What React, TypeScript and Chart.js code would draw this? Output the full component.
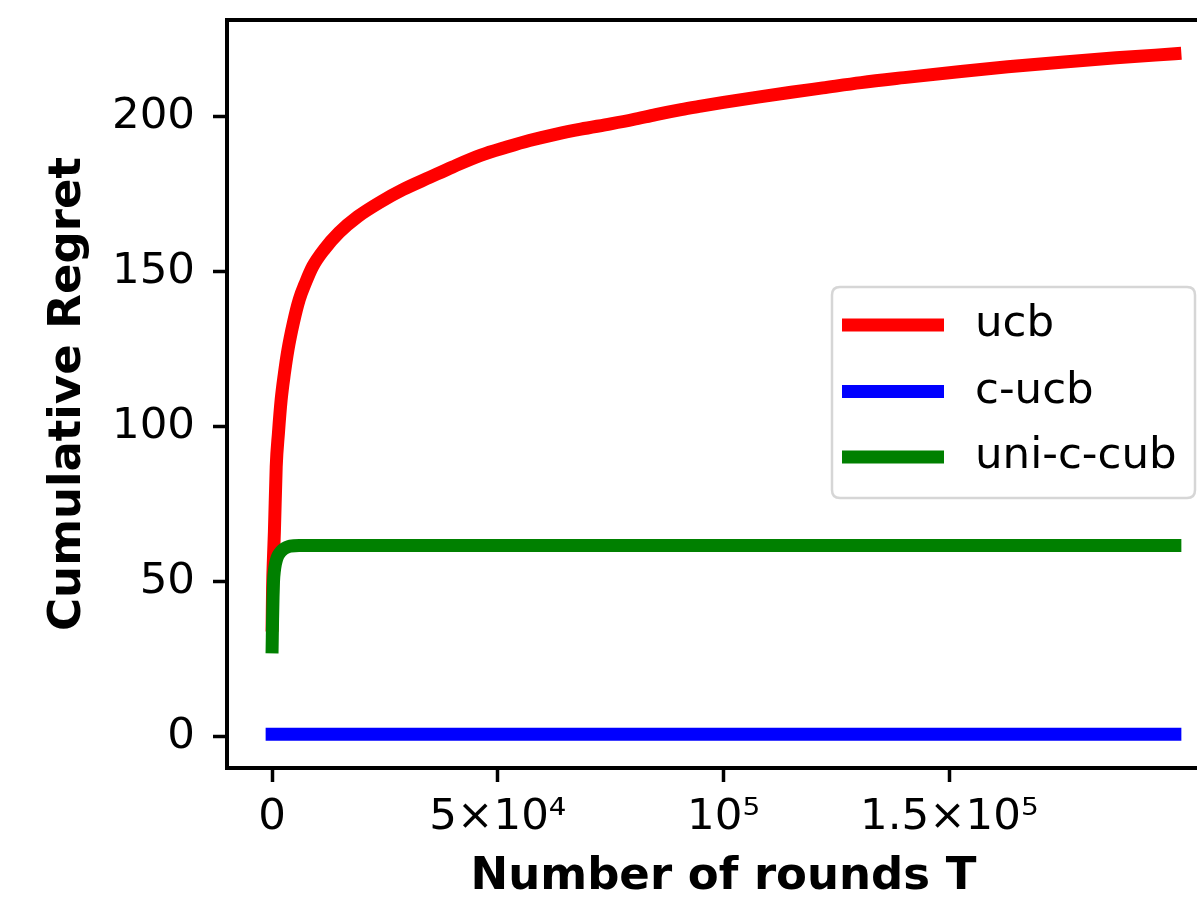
import React, { useEffect, useRef } from "react";
import { Chart, registerables } from "chart.js";

Chart.register(...registerables);

// ---- data ----
const roundsUcb = [0, 100, 300, 500, 900, 1400, 2000, 2700, 3500, 4700, 6000, 7500, 9000, 11500, 14800, 19000, 24000, 29000, 35000, 40000, 46300, 52000, 57000, 63000, 68400, 75000, 80000, 85000, 90600, 95000, 100000, 108000, 115000, 122000, 130500, 140000, 152600, 163000, 174800, 187000, 200000];
const regretUcb = [36, 48, 58, 66, 87, 98, 108.7, 117, 124.8, 133.5, 141, 146.8, 151.7, 157.1, 162.6, 167.8, 172.5, 176.5, 180.5, 183.8, 187.6, 190.2, 192.3, 194.4, 196.0, 197.7, 199.1, 200.7, 202.3, 203.4, 204.6, 206.4, 207.9, 209.3, 211.0, 212.6, 214.6, 216.1, 217.6, 219.0, 220.3];

const roundsCUcb = [0, 200000];
const regretCUcb = [0.8, 0.8];

const roundsUni = [0, 100, 200, 300, 500, 700, 1000, 1300, 1800, 2500, 3200, 4000, 6000, 200000];
const regretUni = [29, 38, 45, 50, 53.5, 55.5, 57.3, 58.4, 59.5, 60.5, 61.1, 61.5, 61.7, 61.7];

const seriesNames = ["ucb", "c-ucb", "uni-c-cub"];
const seriesColors = ["#ff0000", "#0000ff", "#008000"];

const xTickValues = [0, 50000, 100000, 150000];
const xTickLabels = ["0", "5×10⁴", "10⁵", "1.5×10⁵"];
const yTickValues = [0, 50, 100, 150, 200];
const yTickLabels = ["0", "50", "100", "150", "200"];

const xTitle = "Number of rounds T";
const yTitle = "Cumulative Regret";

const FONT = "'DejaVu Sans', 'Liberation Sans', sans-serif";

const toPoints = (xs: number[], ys: number[]) => xs.map((x, i) => ({ x, y: ys[i] }));

const framePlugin = {
  id: "frame",
  afterDraw(chart: any) {
    const { ctx, chartArea } = chart;
    ctx.save();
    // top and right spines
    ctx.strokeStyle = "#000";
    ctx.lineWidth = 4;
    ctx.beginPath();
    ctx.moveTo(chartArea.left - 2, chartArea.top);
    ctx.lineTo(chartArea.right + 2, chartArea.top);
    ctx.moveTo(chartArea.right, chartArea.top);
    ctx.lineTo(chartArea.right, chartArea.bottom);
    ctx.stroke();

    // legend box
    const bx = 832, by = 287, bw = 363, bh = 211, r = 8;
    ctx.beginPath();
    ctx.moveTo(bx + r, by);
    ctx.lineTo(bx + bw - r, by);
    ctx.quadraticCurveTo(bx + bw, by, bx + bw, by + r);
    ctx.lineTo(bx + bw, by + bh - r);
    ctx.quadraticCurveTo(bx + bw, by + bh, bx + bw - r, by + bh);
    ctx.lineTo(bx + r, by + bh);
    ctx.quadraticCurveTo(bx, by + bh, bx, by + bh - r);
    ctx.lineTo(bx, by + r);
    ctx.quadraticCurveTo(bx, by, bx + r, by);
    ctx.closePath();
    ctx.fillStyle = "rgba(255,255,255,0.8)";
    ctx.fill();
    ctx.strokeStyle = "rgba(204,204,204,0.8)";
    ctx.lineWidth = 2.5;
    ctx.stroke();

    const datasets = chart.data.datasets;
    const rowY = [325, 391.5, 457];
    ctx.font = `43.5px ${FONT}`;
    ctx.textBaseline = "middle";
    ctx.textAlign = "left";
    datasets.forEach((ds: any, i: number) => {
      ctx.strokeStyle = ds.borderColor;
      ctx.lineWidth = 13;
      ctx.lineCap = "butt";
      ctx.beginPath();
      ctx.moveTo(842, rowY[i]);
      ctx.lineTo(944, rowY[i]);
      ctx.stroke();
      ctx.fillStyle = "#000";
      ctx.fillText(ds.label, 975, rowY[i]);
    });
    ctx.restore();
  },
};

export default function App() {
  const canvasRef = useRef<HTMLCanvasElement | null>(null);

  useEffect(() => {
    if (!canvasRef.current) return;
    const seriesData = [
      toPoints(roundsUcb, regretUcb),
      toPoints(roundsCUcb, regretCUcb),
      toPoints(roundsUni, regretUni),
    ];
    const orders = [2, 1, 0];
    const chart = new Chart(canvasRef.current, {
      type: "line",
      data: {
        datasets: seriesNames.map((name, i) => ({
          label: name,
          data: seriesData[i],
          borderColor: seriesColors[i],
          backgroundColor: seriesColors[i],
          borderWidth: 13,
          borderCapStyle: "square",
          borderJoinStyle: "round",
          cubicInterpolationMode: "monotone",
          pointRadius: 0,
          fill: false,
          order: orders[i],
        })),
      },
      options: {
        animation: false,
        responsive: false,
        devicePixelRatio: 1,
        layout: { padding: { top: 20, right: 20, left: 0, bottom: 0 } },
        plugins: {
          legend: { display: false },
          tooltip: { enabled: false },
        },
        scales: {
          x: {
            type: "linear",
            min: -10000,
            max: 210000,
            afterBuildTicks: (s: any) => {
              s.ticks = xTickValues.map((v) => ({ value: v }));
            },
            afterFit: (s: any) => {
              s.height = 138;
              s.paddingLeft = 0;
              s.paddingRight = 0;
            },
            ticks: {
              autoSkip: false,
              maxRotation: 0,
              padding: 10,
              color: "#000",
              font: { family: FONT, size: 43.5 },
              callback: (v: any) => xTickLabels[xTickValues.indexOf(Number(v))],
            },
            grid: {
              display: true,
              drawOnChartArea: false,
              drawTicks: true,
              tickLength: 14,
              tickWidth: 3.5,
              tickColor: "#000",
            },
            border: { display: true, color: "#000", width: 4 },
            title: {
              display: true,
              text: xTitle,
              color: "#000",
              font: { family: FONT, size: 45, weight: "bold" },
              padding: { top: 0, bottom: 2 },
            },
          },
          y: {
            type: "linear",
            min: -10.1,
            max: 231.2,
            afterBuildTicks: (s: any) => {
              s.ticks = yTickValues.map((v) => ({ value: v }));
            },
            afterFit: (s: any) => {
              s.width = 227;
              s.paddingTop = 0;
              s.paddingBottom = 0;
            },
            ticks: {
              autoSkip: false,
              padding: 18,
              color: "#000",
              font: { family: FONT, size: 43.5 },
              callback: (v: any) => yTickLabels[yTickValues.indexOf(Number(v))],
            },
            grid: {
              display: true,
              drawOnChartArea: false,
              drawTicks: true,
              tickLength: 14,
              tickWidth: 3.5,
              tickColor: "#000",
            },
            border: { display: true, color: "#000", width: 4 },
            title: {
              display: true,
              text: yTitle,
              color: "#000",
              font: { family: FONT, size: 45, weight: "bold" },
              padding: { top: 41, bottom: 0 },
            },
          },
        },
      },
      plugins: [framePlugin],
    } as any);
    return () => chart.destroy();
  }, []);

  return (
    <div
      style={{
        position: "absolute",
        left: 0,
        top: 0,
        width: 1197,
        height: 906,
        overflow: "hidden",
        background: "#fff",
      }}
    >
      <canvas ref={canvasRef} width={1240} height={906} style={{ display: "block" }} />
    </div>
  );
}
